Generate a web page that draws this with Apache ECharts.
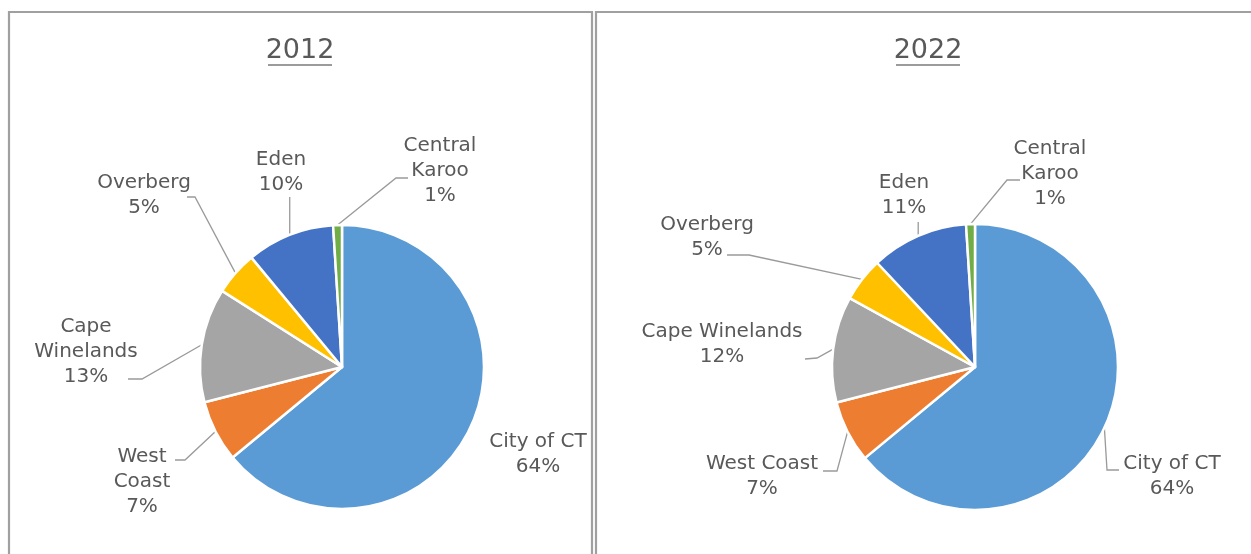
<!DOCTYPE html>
<html><head><meta charset="utf-8">
<script src="https://cdn.jsdelivr.net/npm/echarts@6/dist/echarts.min.js"></script>
<style>html,body{margin:0;padding:0;background:#fff}#c{width:1251px;height:554px}</style>
</head><body><div id="c"></div>
<script>
// ---- data ----
const categories = ['City of CT', 'West Coast', 'Cape Winelands', 'Overberg', 'Eden', 'Central Karoo'];
const years = ['2012', '2022'];
const values2012 = [64, 7, 13, 5, 10, 1];
const values2022 = [64, 7, 12, 5, 11, 1];
const colors = ['#5B9BD5', '#ED7D31', '#A5A5A5', '#FFC000', '#4472C4', '#70AD47'];

// ---- layout (positions / styles only) ----
const TEXT = '#595959';
const FONT = 'DejaVu Sans';
const panels = [
  {
    values: values2012,
    frame: { x: 9, y: 12, w: 583, h: 560 },
    title: { x: 300, y: 51, ul: [268, 332, 65] },
    center: [342, 367], r: 142,
    wrap: ['West Coast', 'Cape Winelands', 'Central Karoo'],
    labels: [
      { c: [538, 454], line: null },
      { c: [142, 482], line: [[185, 460], [175, 460]] },
      { c: [86, 352], line: [[142, 379], [128, 379]] },
      { c: [144, 195], line: [[195, 197], [187, 197]] },
      { c: [281, 172], line: [[null, 210], [null, 197]] },
      { c: [440, 171], line: [[396, 178], [408, 178]] }
    ]
  },
  {
    values: values2022,
    frame: { x: 596, y: 12, w: 680, h: 560 },
    title: { x: 928, y: 51, ul: [896, 960, 65] },
    center: [975, 367], r: 143,
    wrap: ['Central Karoo'],
    labels: [
      { c: [1172, 476], line: [[1107, 470], [1119, 470]] },
      { c: [762, 476], line: [[837, 471], [823, 471]] },
      { c: [722, 344], line: [[817, 358], [805, 359]] },
      { c: [707, 237], line: [[749, 255], [727, 255]] },
      { c: [904, 195], line: [[null, 232], [null, 222]] },
      { c: [1050, 174], line: [[1007, 180], [1020, 180]] }
    ]
  }
];

const graphics = [];
panels.forEach((p, i) => {
  graphics.push({
    type: 'rect', silent: true,
    shape: { x: p.frame.x, y: p.frame.y, width: p.frame.w, height: p.frame.h },
    style: { fill: 'none', stroke: '#a0a0a0', lineWidth: 2.2 }
  });
  graphics.push({
    type: 'text', silent: true, x: p.title.x, y: p.title.y,
    style: { text: years[i], fill: TEXT, font: '27px "' + FONT + '"', align: 'center', verticalAlign: 'middle' }
  });
  graphics.push({
    type: 'line', silent: true,
    shape: { x1: p.title.ul[0], y1: p.title.ul[2], x2: p.title.ul[1], y2: p.title.ul[2] },
    style: { stroke: '#7a7a7a', lineWidth: 1.5 }
  });
});

const series = panels.map((p, si) => ({
  type: 'pie',
  name: years[si],
  center: p.center,
  radius: p.r,
  startAngle: 90,
  clockwise: true,
  avoidLabelOverlap: false,
  itemStyle: { borderColor: '#ffffff', borderWidth: 2.5 },
  label: {
    show: true, position: 'outside', color: TEXT, fontFamily: FONT, fontSize: 20, lineHeight: 25,
    formatter: (d) => {
      const nm = p.wrap.indexOf(d.name) >= 0 ? d.name.replace(' ', '\n') : d.name;
      return nm + '\n' + d.value + '%';
    }
  },
  labelLine: { show: true, length: 10, length2: 10, lineStyle: { color: '#9a9a9a', width: 1.3 } },
  labelLayout: (prm) => {
    const L = p.labels[prm.dataIndex];
    const out = { x: L.c[0], y: L.c[1], align: 'center', verticalAlign: 'middle' };
    if (L.line && prm.labelLinePoints) {
      const a = prm.labelLinePoints[0];
      out.labelLinePoints = [a].concat(L.line.map(q => [q[0] == null ? a[0] : q[0], q[1]]));
    }
    return out;
  },
  data: categories.map((c, k) => ({
    name: c, value: p.values[k],
    itemStyle: { color: colors[k] },
    labelLine: { show: !!p.labels[k].line }
  }))
}));

const chart = echarts.init(document.getElementById('c'), null, { renderer: 'canvas' });
chart.setOption({
  animation: false,
  backgroundColor: '#ffffff',
  graphic: graphics,
  series: series
});
</script>
</body></html>
